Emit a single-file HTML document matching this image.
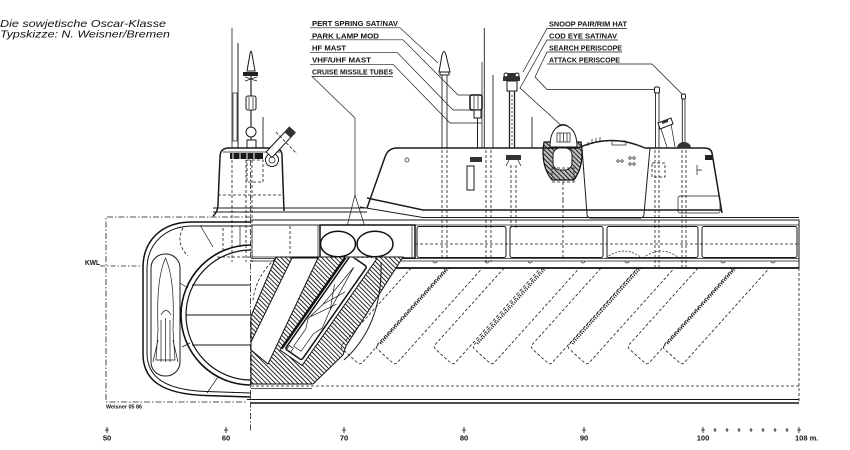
<!DOCTYPE html>
<html><head><meta charset="utf-8">
<style>
html,body{margin:0;padding:0;background:#fff;width:850px;height:450px;overflow:hidden}
svg{display:block}
text{font-family:"Liberation Sans",sans-serif;fill:#111}
.lb{font-size:7px;font-weight:bold}
.s{fill:none;stroke:#1a1a1a;stroke-width:1}
.w{fill:#fff;stroke:#1a1a1a;stroke-width:1}
.k{fill:none;stroke:#1a1a1a;stroke-width:1.5}
.t{fill:none;stroke:#1a1a1a;stroke-width:0.7}
.d{fill:none;stroke:#1a1a1a;stroke-width:0.8;stroke-dasharray:3 2}
.dd{fill:none;stroke:#1a1a1a;stroke-width:0.8;stroke-dasharray:6 2 1.5 2}
.saw{fill:none;stroke:#1a1a1a;stroke-width:2;stroke-dasharray:1 1.3}
</style></head><body>
<svg width="850" height="450" viewBox="0 0 850 450" xmlns="http://www.w3.org/2000/svg">
<defs>
<pattern id="h" width="3.2" height="3.2" patternUnits="userSpaceOnUse" patternTransform="rotate(-45)">
<line x1="0.5" y1="0" x2="0.5" y2="3.2" stroke="#111" stroke-width="0.9"/>
</pattern>
<clipPath id="tc"><rect x="0" y="268" width="850" height="200"/></clipPath>
<clipPath id="c2c"><rect x="0" y="258" width="850" height="200"/></clipPath>
</defs>

<!-- Title -->
<text x="0" y="27" font-size="10.5" font-style="italic" textLength="166" lengthAdjust="spacingAndGlyphs">Die sowjetische Oscar-Klasse</text>
<text x="0" y="37.5" font-size="10.5" font-style="italic" textLength="170" lengthAdjust="spacingAndGlyphs">Typskizze: N. Weisner/Bremen</text>

<!-- Left label group -->
<text class="lb" x="312" y="26" textLength="86" lengthAdjust="spacingAndGlyphs">PERT SPRING SAT/NAV</text>
<text class="lb" x="312" y="38.3" textLength="67" lengthAdjust="spacingAndGlyphs">PARK LAMP MOD</text>
<text class="lb" x="312" y="50.7" textLength="34" lengthAdjust="spacingAndGlyphs">HF MAST</text>
<text class="lb" x="312" y="62.7" textLength="59" lengthAdjust="spacingAndGlyphs">VHF/UHF MAST</text>
<text class="lb" x="312" y="74.3" textLength="81" lengthAdjust="spacingAndGlyphs">CRUISE MISSILE TUBES</text>
<path class="t" d="M310,27.8 H400 L438,63"/>
<path class="t" d="M310,39.8 H403 L458,95 H471"/>
<path class="t" d="M310,52.3 H397 L453,110 H476"/>
<path class="t" d="M310,64.3 H393 L450,123 H482"/>
<path class="t" d="M393,76.5 H312 L355,118 V195 L336,270 M355,195 L379,272"/>

<!-- Right label group -->
<text class="lb" x="549" y="26.7" textLength="78" lengthAdjust="spacingAndGlyphs">SNOOP PAIR/RIM HAT</text>
<text class="lb" x="549" y="38.3" textLength="68" lengthAdjust="spacingAndGlyphs">COD EYE SAT/NAV</text>
<text class="lb" x="549" y="50.7" textLength="73" lengthAdjust="spacingAndGlyphs">SEARCH PERISCOPE</text>
<text class="lb" x="549" y="62.7" textLength="71" lengthAdjust="spacingAndGlyphs">ATTACK PERISCOPE</text>
<path class="t" d="M627,28.5 H547 L523,72"/>
<path class="t" d="M618,40 H547 L520,88 L563,127"/>
<path class="t" d="M622,52 H547 L535,77 L547,89.5 H655"/>
<path class="t" d="M547,64 H652 L683,95"/>

<!-- ===== Sail 1 masts ===== -->
<line x1="232" y1="28" x2="232" y2="148" stroke="#222" stroke-width="0.8"/>
<line x1="238" y1="43" x2="238" y2="148" stroke="#222" stroke-width="1"/>
<rect x="233" y="93" width="4" height="48" class="t"/>
<path d="M247,71 L250,54 Q251,48 252,54 L255,71 Z" class="w"/>
<path d="M243,72 h15 v4 h-15z" fill="#222"/>
<path d="M245,77 l12,4 M257,77 l-12,4" class="t"/>
<line x1="251" y1="76" x2="251" y2="147" stroke="#222" stroke-width="1.2"/>
<rect x="246" y="96" width="10" height="14" rx="2" class="w"/>
<line x1="249" y1="97" x2="249" y2="109" class="t"/>
<line x1="253" y1="97" x2="253" y2="109" class="t"/>
<circle cx="251" cy="132" r="5" class="w"/>
<rect x="247" y="140" width="9" height="8" class="w"/>
<line x1="263" y1="117" x2="263" y2="148" stroke="#222" stroke-width="0.9"/>

<!-- Sail 1 -->
<path d="M213,216 Q218,212 218,204 L220,157 Q220,148 229,148 L274,148 Q282,148 282,156 L284,211" class="k" fill="#fff"/>
<path d="M223,152 H280" class="t"/>
<rect x="230" y="153" width="33" height="6" fill="#1a1a1a"/>
<path d="M233,153 v6 M240,153 v6 M247,153 v6 M254,153 v6" stroke="#fff" stroke-width="1"/>
<path class="d" d="M232,160 V262 M246,160 V262 M252,160 V262 M218,195 H284"/>
<rect x="247" y="160" width="16" height="22" class="d"/>
<circle cx="272" cy="160" r="6.5" class="w"/>
<circle cx="272" cy="160" r="3" class="t"/>
<g transform="translate(280,143) rotate(43)">
<rect x="-4" y="-18" width="8" height="34" class="w"/>
<rect x="-4" y="-18" width="8" height="7" fill="#333"/>
</g>
<path class="d" d="M276,132 L297,154"/>

<!-- ===== Casing masts ===== -->
<path d="M439,72 L442,55 Q444,48 446,55 L450,72 Z" class="w"/>
<rect x="440" y="72" width="9" height="3" class="w"/>
<line x1="442" y1="75" x2="442" y2="148" stroke="#222" stroke-width="0.9"/>
<line x1="447" y1="75" x2="447" y2="148" stroke="#222" stroke-width="0.9"/>
<line x1="484.3" y1="28" x2="484.3" y2="148" stroke="#222" stroke-width="0.9"/>
<line x1="482" y1="62" x2="482" y2="148" stroke="#222" stroke-width="0.8"/>
<line x1="493" y1="75" x2="493" y2="148" stroke="#222" stroke-width="0.9"/>
<rect x="470" y="95" width="12" height="15" rx="2" fill="#fff" stroke="#111" stroke-width="1.5"/>
<path d="M474,96 v13 M478,96 v13" class="t"/>
<rect x="474" y="110" width="7" height="8" class="w"/>
<line x1="477.5" y1="118" x2="477.5" y2="148" stroke="#222" stroke-width="1"/>
<path d="M503,77 l4,-4 h9 l4,4 v4 h-17z" fill="#333"/>
<circle cx="506" cy="75" r="2" class="w"/>
<circle cx="517" cy="75" r="2" class="w"/>
<rect x="507" y="81" width="10" height="10" class="w"/>
<line x1="509.5" y1="91" x2="509.5" y2="148" stroke="#222" stroke-width="1.3"/>
<line x1="514.5" y1="91" x2="514.5" y2="148" stroke="#222" stroke-width="1.3"/>
<line x1="512" y1="95" x2="512" y2="145" stroke="#222" stroke-width="0.8" stroke-dasharray="2 2"/>
<line x1="532" y1="117" x2="532" y2="148" stroke="#222" stroke-width="0.9"/>
<rect x="654.5" y="87" width="5" height="6" rx="1.5" class="w"/>
<line x1="655.5" y1="93" x2="655.5" y2="148" stroke="#222" stroke-width="0.9"/>
<line x1="659" y1="93" x2="659" y2="148" stroke="#222" stroke-width="0.9"/>
<rect x="681.5" y="94" width="4" height="5" rx="1.5" class="w"/>
<line x1="682.3" y1="99" x2="682.3" y2="146" stroke="#222" stroke-width="0.9"/>
<line x1="685" y1="99" x2="685" y2="146" stroke="#222" stroke-width="0.8"/>
<path d="M658,123 L671,118 L673,124 L660,129 Z" class="w"/>
<path d="M662,121 l6,-2 v3 l-6,2z" fill="#333"/>
<path class="t" d="M661,129 L667,147 M671,124 L675,147"/>

<!-- ===== Casing ===== -->
<path d="M367,208 L385,157 Q388,148 397,148 L578,148 Q611,133 645,148 L704,148 Q711,148 712,153 L722,213" class="k" fill="#fff"/>
<path d="M588,146 v-4 M592,144 v-5 M596,142 v-4 M600,141 v-4" class="t"/>
<rect x="612" y="141" width="14" height="4" class="t"/>
<path d="M582,148 L587,214 Q587,218 591,218 L640,218 Q644,218 644,214 L650,148" class="s"/>
<path d="M367,198 L423,210 H722" class="k"/>
<path d="M360,207 L423,217.5 H799" class="s"/>
<path d="M213,208 H367 M213,212 H367" class="s"/>
<circle cx="407" cy="160" r="2" class="t"/>
<circle cx="618" cy="161" r="1.2" class="t"/><circle cx="622" cy="161" r="1.2" class="t"/>
<circle cx="630" cy="158" r="1.2" class="t"/><circle cx="634" cy="158" r="1.2" class="t"/>
<circle cx="630" cy="164" r="1.2" class="t"/><circle cx="634" cy="164" r="1.2" class="t"/>
<rect x="705" y="155" width="8" height="5" fill="#222"/>
<path class="t" d="M697,165 v10 M697,170 h5"/>
<rect x="678" y="196" width="42" height="17" rx="2" class="t"/>
<!-- periscope housing -->
<path d="M544,142 Q540,165 552,180 L574,180 Q585,165 581,142 Z" fill="url(#h)" stroke="#111" stroke-width="1.2"/>
<path d="M544,142 Q540,165 552,180 L574,180 Q585,165 581,142 Z" fill="#000" fill-opacity="0.25"/>
<rect x="553" y="148" width="19" height="22" rx="7" class="w"/>
<path d="M550,147 Q550,127 563,125 Q577,127 577,147 Z" class="w" stroke-width="1.2"/>
<path d="M556,128 Q563,121 570,128" class="s"/>
<rect x="557" y="133" width="13" height="9" class="t"/>
<path d="M560,133 v9 M563.5,133 v9 M567,133 v9" class="t"/>
<rect x="552" y="168" width="22" height="14" class="d"/>
<path class="d" d="M563,182 V200"/>
<path d="M677,148 A7,6 0 0 1 691,148 Z" fill="#333"/>
<!-- wells below casing -->
<path class="d" d="M442,150 V258 M447,150 V258 M486,150 V262 M491,150 V262 M511,165 V230 M516,165 V230 M655,150 V268 M659,150 V268 M682,150 V268 M686,150 V268 M563,200 V258"/>
<rect x="467" y="166" width="7" height="24" class="s"/>
<path d="M470,157 h12 v5 h-12z" fill="#333"/>
<path d="M506,155 h15 v5 h-15z" fill="#333"/>
<path d="M509,160 l-3,6 M518,160 l3,6" class="t"/>
<rect x="652" y="163" width="13" height="14" class="d"/>

<!-- ===== Main hull (profile) ===== -->
<path class="s" d="M251,220 H799 V268"/>
<path class="t" d="M251,225 H799"/>
<path class="t" d="M251,258.5 H799 M251,261 H799"/>
<path d="M396,268 H799" stroke="#111" stroke-width="1.7"/>
<path class="d" d="M799,268 V403"/>
<path class="d" d="M251,386 H799"/>
<path d="M247,399.5 H799" stroke="#111" stroke-width="1"/>
<path d="M251,403 H799" stroke="#111" stroke-width="1.6"/>
<path class="t" d="M251,388.5 H312"/>
<!-- tank boxes -->
<rect x="417" y="226.5" width="89" height="31" rx="2" class="s"/>
<rect x="510" y="226.5" width="93" height="31" rx="2" class="s"/>
<rect x="607" y="226.5" width="91" height="31" rx="2" class="s"/>
<rect x="702" y="226.5" width="95" height="31" rx="2" class="s"/>
<path class="d" d="M415,244 H799"/>
<path d="M606,258 Q624,244 642,258 M643,258 Q661,244 679,258" class="t" stroke-dasharray="2 1.5"/>
<path class="t" d="M433,261 a2,2 0 0 0 4,0 M485,261 a2,2 0 0 0 4,0 M528,261 a2,2 0 0 0 4,0 M581,261 a2,2 0 0 0 4,0 M625,261 a2,2 0 0 0 4,0 M721,261 a2,2 0 0 0 4,0 M771,261 a2,2 0 0 0 4,0"/>
<!-- ellipse box -->
<rect x="320" y="225" width="95" height="33" fill="#fff" stroke="#111" stroke-width="1.5"/>
<line x1="412" y1="226" x2="412" y2="257" class="t"/>
<ellipse cx="338" cy="244" rx="17.5" ry="12.8" fill="none" stroke="#111" stroke-width="1.5"/>
<ellipse cx="375" cy="244" rx="18" ry="12.8" fill="none" stroke="#111" stroke-width="1.5"/>
<rect x="252" y="225" width="66" height="32" class="t"/>
<path class="d" d="M290,226 V256"/>

<!-- ===== Cross section (left) ===== -->
<path class="dd" d="M251,217 H106 V402 H247"/>
<line x1="250.5" y1="160" x2="250.5" y2="432" stroke="#222" stroke-width="0.8" stroke-dasharray="6 2 1.5 2"/>
<text x="85" y="265" font-size="7" font-weight="bold" textLength="15" lengthAdjust="spacingAndGlyphs">KWL</text>
<line x1="100" y1="266" x2="143" y2="266" stroke="#222" stroke-width="0.8" stroke-dasharray="5 2 1.5 2"/>
<path d="M251,222 L192,222 C162,222 143,240 143,268 L143,354 C143,380 162,394 205,395.5 L251,397" fill="none" stroke="#111" stroke-width="1.5"/>
<path d="M251,226 L193,226 C166,226 147,243 147,269 L147,353 C147,377 165,390 206,391.5 L251,393" fill="none" stroke="#111" stroke-width="1"/>
<rect x="151" y="254" width="29" height="122" rx="14" class="s"/>
<path d="M165.5,258 C158,275 157,300 158,330 L156,360 L175,360 L173,330 C174,300 173,275 165.5,258 Z" class="t"/>
<path d="M161,315 Q166,306 171,315 M161,320 V362 M165.5,318 V362 M170,320 V362 M158,340 L153,362 M173,340 L178,362" class="t"/>
<path d="M251,245 A70,70 0 0 0 251,385" fill="none" stroke="#111" stroke-width="1.6"/>
<path d="M251,250 A65,65 0 0 0 251,380" fill="none" stroke="#111" stroke-width="1.2"/>
<path class="s" d="M192,285 H251 M186,315 H251 M192,345 H251"/>
<path class="t" d="M200,225 L213,247 M207,393 L218,377 M240,226 V247 M180,283 L188,288 M182,347 L190,343"/>
<path class="d" d="M183,228 Q175,243 188,256 M217,257 H251 M223,228 V250"/>
<text x="106" y="408.5" font-size="5.5" font-weight="bold" textLength="36" lengthAdjust="spacingAndGlyphs">Weisner 05 86</text>

<!-- ===== Hatched missile tube section ===== -->
<path d="M276,257 L403,257 L346,346 L343,355 L313,384 L251,384 L251,316 Z" fill="#fff" stroke="none"/>
<path d="M276,257 L403,257 L346,346 L343,355 L313,384 L251,384 L251,316 Z" fill="url(#h)" stroke="#111" stroke-width="1"/>
<path d="M292,258 L318,258 L268,364 L251,350 L251,342 Z" fill="#fff" stroke="#111" stroke-width="1"/>
<g clip-path="url(#c2c)">
<g transform="translate(280,350) rotate(35)">
<rect x="0" y="-130" width="27" height="130" fill="#fff" stroke="#111" stroke-width="1"/>
<line x1="0.5" y1="-2" x2="0.5" y2="-130" stroke="#111" stroke-width="2.6"/>
<rect x="3.5" y="-118" width="20" height="114" rx="2" fill="none" stroke="#111" stroke-width="1.5"/>
<path d="M13,-110 L9,-62 L5,-42 L9,-32 L9,-11 L18,-11 L18,-32 L22,-42 L18,-62 Z" class="t"/>
<path d="M9,-62 L20,-85 M18,-62 L7,-85 M6,-45 L20,-70" class="t"/>
<rect x="5" y="-9" width="5" height="5" class="t"/>
</g>
</g>
<path d="M381,262 Q383,325 344,360" class="s"/>
<path class="d" d="M275,259 Q256,276 253,300"/>

<!-- ===== Inclined missile tubes ===== -->
<g clip-path="url(#tc)">
<g transform="translate(340,347) rotate(42)"><rect x="0" y="-150" width="27" height="150" rx="3" class="d"/></g>
<g transform="translate(375,347) rotate(42)"><rect x="0" y="-150" width="27" height="150" rx="3" class="d"/><line x1="2" y1="-6" x2="2" y2="-150" class="saw"/></g>
<g transform="translate(433,347) rotate(42)"><rect x="0" y="-150" width="27" height="150" rx="3" class="d"/></g>
<g transform="translate(472,347) rotate(42)"><rect x="0" y="-150" width="27" height="150" rx="3" class="d"/><line x1="2" y1="-6" x2="2" y2="-150" class="saw"/></g>
<g transform="translate(530,347) rotate(42)"><rect x="0" y="-150" width="27" height="150" rx="3" class="d"/></g>
<g transform="translate(567,347) rotate(42)"><rect x="0" y="-150" width="27" height="150" rx="3" class="d"/><line x1="2" y1="-6" x2="2" y2="-150" class="saw"/></g>
<g transform="translate(627,347) rotate(42)"><rect x="0" y="-150" width="27" height="150" rx="3" class="d"/></g>
<g transform="translate(662,347) rotate(42)"><rect x="0" y="-150" width="27" height="150" rx="3" class="d"/><line x1="2" y1="-6" x2="2" y2="-150" class="saw"/></g>
</g>

<!-- ===== Scale ===== -->
<g stroke="#111" stroke-width="0.8">
<path d="M107,427 v6 M105,430 h4 M226,427 v6 M224,430 h4 M344,427 v6 M342,430 h4 M464,427 v6 M462,430 h4 M584,427 v6 M582,430 h4 M703,427 v6 M701,430 h4"/>
<path d="M715,428 v4 M713.5,430 h3 M727,428 v4 M725.5,430 h3 M739,428 v4 M737.5,430 h3 M751,428 v4 M749.5,430 h3 M763,428 v4 M761.5,430 h3 M775,428 v4 M773.5,430 h3 M787,428 v4 M785.5,430 h3 M799,427 v6 M797,430 h4"/>
</g>
<g font-size="7.5" font-weight="bold" text-anchor="middle">
<text x="107" y="440.5">50</text>
<text x="226" y="440.5">60</text>
<text x="344" y="440.5">70</text>
<text x="464" y="440.5">80</text>
<text x="584" y="440.5">90</text>
<text x="703" y="440.5">100</text>
</g>
<text x="795" y="440.5" font-size="7.5" font-weight="bold">108 m.</text>
</svg>
</body></html>
